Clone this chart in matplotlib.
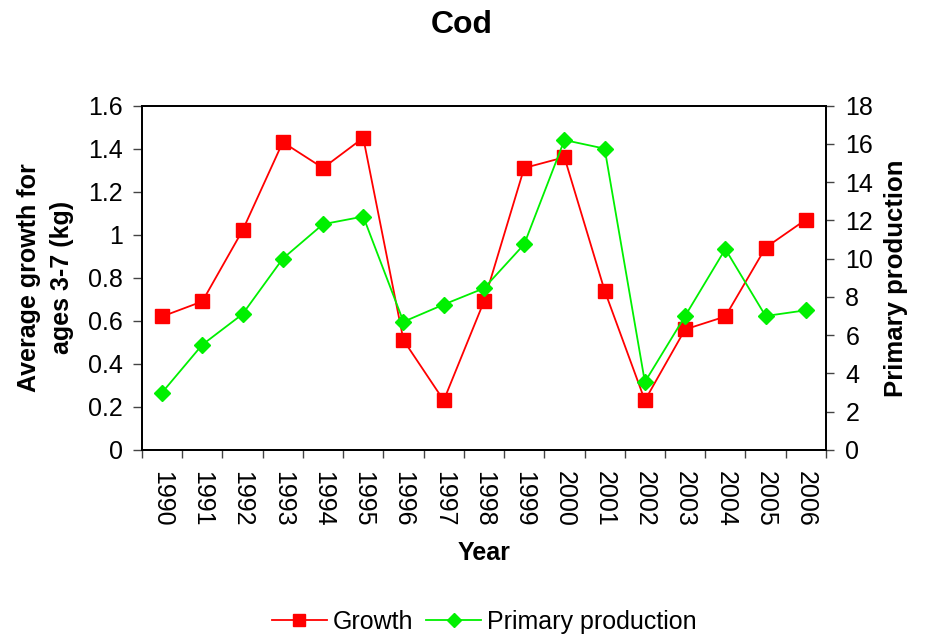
import numpy as np
import matplotlib.pyplot as plt
from matplotlib.lines import Line2D

plt.rcParams['font.family'] = ['Liberation Sans', 'DejaVu Sans']

# Данные
years = ['1990', '1991', '1992', '1993', '1994', '1995', '1996', '1997', '1998',
         '1999', '2000', '2001', '2002', '2003', '2004', '2005', '2006']
growth = [0.62, 0.69, 1.02, 1.43, 1.31, 1.45, 0.51, 0.23, 0.69,
          1.31, 1.36, 0.74, 0.23, 0.56, 0.62, 0.94, 1.07]
primary = [3.0, 5.5, 7.1, 10.0, 11.8, 12.2, 6.7, 7.6, 8.45,
           10.75, 16.2, 15.75, 3.55, 7.0, 10.5, 7.0, 7.3]

x = np.arange(len(years))

fig = plt.figure(figsize=(9.28, 6.4), dpi=100)
ax = fig.add_axes([0.153, 0.297, 0.737, 0.538])
ax2 = ax.twinx()

ax.plot(x, growth, color='#ff0000', marker='s', markersize=9.5, linewidth=1.3, label='Growth')
ax2.plot(x, primary, color='#00f000', marker='D', markersize=8, linewidth=1.3, label='Primary production')

ax.set_xlim(-0.5, len(years) - 0.5)
ax.set_ylim(0, 1.6)
ax2.set_ylim(0, 18)
ax.set_yticks(np.arange(0, 1.61, 0.2))
ax.set_yticklabels(['0', '0.2', '0.4', '0.6', '0.8', '1', '1.2', '1.4', '1.6'])
ax2.set_yticks(np.arange(0, 19, 2))

# подписи категорий по центру, засечки между категориями
ax.set_xticks(x)
ax.set_xticklabels(years, rotation=-90, fontsize=18)
ax.set_xticks(np.arange(-0.5, len(years)), minor=True)
ax.tick_params(axis='x', which='major', length=0, pad=15.5)
ax.tick_params(axis='x', which='minor', length=6, width=1, color='#444444')
ax.tick_params(axis='y', labelsize=18, length=6.5, width=1, color='#444444', pad=7)
ax2.tick_params(axis='y', labelsize=18, length=6, width=1, color='#444444', pad=8)

for a in (ax, ax2):
    for s in a.spines.values():
        s.set_linewidth(1.3)

ax.set_xlabel('Year', fontsize=18, fontweight='bold', labelpad=10)
ax.set_ylabel('Average growth for\nages 3-7 (kg)', fontsize=18, fontweight='bold',
              labelpad=10, linespacing=1.5)
ax2.set_ylabel('Primary production', fontsize=18.5, fontweight='bold', labelpad=8)
fig.suptitle('Cod', fontsize=23, fontweight='bold', x=0.498, y=0.985)

handles = [Line2D([], [], color='#ff0000', marker='s', markersize=8.5, linewidth=1.3),
           Line2D([], [], color='#00f000', marker='D', markersize=7.5, linewidth=1.3)]
fig.legend(handles, ['Growth', 'Primary production'], loc='center', ncol=2,
           bbox_to_anchor=(0.522, 0.028), frameon=False, fontsize=18,
           handlelength=2.2, handletextpad=0.25, columnspacing=0.5)

plt.savefig('out.png', dpi=100)
